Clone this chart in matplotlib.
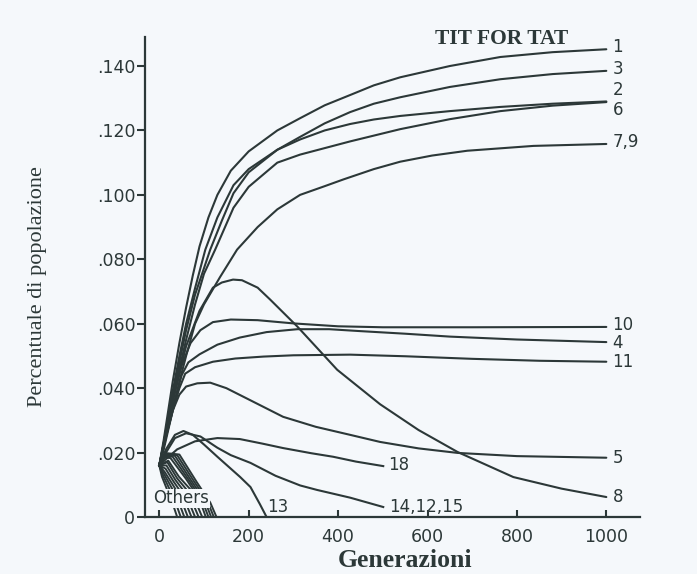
import matplotlib.pyplot as plt

# Axelrod ecological tournament: share of population per strategy vs generation
gen_tft = [0, 10, 20, 30, 45, 60, 75, 90, 110, 130, 160, 200, 264, 315, 370, 427, 480, 539, 650, 763, 880, 1000]
pop_tft = [0.016, 0.024, 0.033, 0.042, 0.054, 0.065, 0.075, 0.084, 0.093, 0.100, 0.1075, 0.1135, 0.1200,
           0.1238, 0.1278, 0.1310, 0.1340, 0.1365, 0.1400, 0.1428, 0.1443, 0.1452]

gen_3 = [0, 10, 20, 30, 45, 60, 80, 103, 130, 166, 200, 264, 315, 370, 427, 480, 539, 650, 763, 880, 1000]
pop_3 = [0.016, 0.023, 0.031, 0.039, 0.050, 0.060, 0.071, 0.083, 0.093, 0.103, 0.108, 0.114, 0.118,
         0.1222, 0.1257, 0.1283, 0.1303, 0.1335, 0.1359, 0.1375, 0.1385]

gen_2 = [0, 10, 20, 30, 45, 60, 80, 114, 140, 166, 200, 264, 315, 370, 427, 480, 539, 650, 763, 880, 1000]
pop_2 = [0.016, 0.023, 0.030, 0.038, 0.048, 0.058, 0.069, 0.083, 0.092, 0.1005, 0.107, 0.114, 0.1172,
         0.1200, 0.1220, 0.1234, 0.1245, 0.1260, 0.1273, 0.1283, 0.1290]

gen_6 = [0, 10, 20, 30, 45, 60, 80, 100, 125, 166, 200, 264, 315, 427, 539, 650, 763, 880, 1000]
pop_6 = [0.016, 0.022, 0.029, 0.036, 0.046, 0.055, 0.066, 0.0755, 0.083, 0.096, 0.1025, 0.110, 0.1125,
         0.1166, 0.1204, 0.1235, 0.1260, 0.1277, 0.1288]

gen_79 = [0, 10, 20, 30, 45, 60, 80, 100, 136, 174, 220, 264, 315, 370, 412, 480, 539, 610, 689, 837, 1000]
pop_79 = [0.016, 0.021, 0.027, 0.033, 0.042, 0.050, 0.060, 0.066, 0.0745, 0.083, 0.090, 0.0955, 0.1000,
          0.1027, 0.1048, 0.1080, 0.1103, 0.1122, 0.1137, 0.1152, 0.1158]

gen_10 = [0, 15, 30, 50, 70, 92, 120, 160, 220, 300, 400, 500, 700, 1000]
pop_10 = [0.016, 0.026, 0.036, 0.047, 0.054, 0.058, 0.0605, 0.0613, 0.0611, 0.0601, 0.0592, 0.0589,
          0.0589, 0.0590]

gen_4 = [0, 15, 30, 50, 65, 90, 130, 180, 240, 309, 380, 450, 550, 650, 800, 1000]
pop_4 = [0.016, 0.025, 0.034, 0.044, 0.048, 0.0505, 0.0535, 0.0557, 0.0574, 0.0583, 0.0583, 0.0577,
         0.0569, 0.0560, 0.0551, 0.0543]

gen_11 = [0, 15, 30, 45, 58, 80, 120, 170, 233, 300, 427, 550, 700, 850, 1000]
pop_11 = [0.016, 0.025, 0.033, 0.040, 0.0445, 0.0465, 0.0482, 0.0492, 0.0498, 0.0502, 0.0504, 0.0499,
          0.0491, 0.0485, 0.0482]

gen_5 = [0, 15, 30, 45, 60, 85, 114, 150, 200, 277, 350, 427, 494, 580, 667, 800, 1000]
pop_5 = [0.016, 0.025, 0.033, 0.038, 0.0405, 0.0415, 0.0417, 0.040, 0.0365, 0.0311, 0.028, 0.0255,
         0.0233, 0.0213, 0.0199, 0.0189, 0.0184]

gen_8 = [0, 15, 30, 60, 90, 120, 140, 165, 185, 220, 248, 309, 398, 494, 580, 667, 792, 900, 1000]
pop_8 = [0.016, 0.026, 0.036, 0.053, 0.064, 0.0712, 0.0728, 0.0737, 0.0735, 0.0712, 0.0675, 0.0591,
         0.0457, 0.035, 0.027, 0.0202, 0.0124, 0.0088, 0.0062]

gen_18 = [0, 15, 40, 80, 130, 180, 230, 277, 340, 389, 440, 501]
pop_18 = [0.016, 0.018, 0.021, 0.0235, 0.0245, 0.0242, 0.0228, 0.0214, 0.0198, 0.0187, 0.0172, 0.0158]

gen_13 = [0, 15, 35, 54, 75, 100, 130, 181, 204, 225, 240]
pop_13 = [0.016, 0.021, 0.0255, 0.0267, 0.0255, 0.0225, 0.0187, 0.0124, 0.0093, 0.004, 0.0]

gen_141215 = [0, 15, 35, 60, 92, 130, 160, 204, 260, 315, 353, 427, 501]
pop_141215 = [0.016, 0.020, 0.0245, 0.026, 0.025, 0.0215, 0.0192, 0.0168, 0.0128, 0.0098, 0.0084,
              0.006, 0.0031]

# the many losing rules that die out early ("Others")
gen_others = [
    [0, 6, 16, 28, 40],
    [0, 8, 20, 34, 48],
    [0, 10, 24, 40, 56],
    [0, 12, 28, 46, 64],
    [0, 14, 32, 52, 72],
    [0, 16, 36, 58, 80],
    [0, 18, 40, 64, 88],
    [0, 20, 44, 70, 96],
    [0, 10, 25, 60, 90, 104],
    [0, 12, 30, 66, 96, 110],
    [0, 14, 35, 72, 102, 116],
    [0, 16, 40, 78, 108, 122],
    [0, 18, 45, 84, 114, 128],
]
pop_others = [
    [0.016, 0.0125, 0.009, 0.005, 0.0],
    [0.016, 0.013, 0.0095, 0.0055, 0.0],
    [0.016, 0.0135, 0.010, 0.006, 0.0],
    [0.016, 0.014, 0.0105, 0.0065, 0.0],
    [0.016, 0.015, 0.011, 0.007, 0.0],
    [0.016, 0.016, 0.0115, 0.0075, 0.0],
    [0.016, 0.017, 0.012, 0.008, 0.0],
    [0.016, 0.0175, 0.0125, 0.0085, 0.0],
    [0.016, 0.0185, 0.0183, 0.0118, 0.0055, 0.0],
    [0.016, 0.019, 0.0187, 0.0115, 0.0052, 0.0],
    [0.016, 0.0192, 0.019, 0.0112, 0.005, 0.0],
    [0.016, 0.0195, 0.0192, 0.011, 0.0048, 0.0],
    [0.016, 0.0198, 0.0194, 0.0108, 0.0045, 0.0],
]

end_curves = [(gen_tft, pop_tft), (gen_3, pop_3), (gen_2, pop_2), (gen_6, pop_6), (gen_79, pop_79),
              (gen_10, pop_10), (gen_4, pop_4), (gen_11, pop_11), (gen_5, pop_5), (gen_8, pop_8)]
end_labels = ["1", "3", "2", "6", "7,9", "10", "4", "11", "5", "8"]
end_label_y = [0.1459, 0.1390, 0.1325, 0.1263, 0.1163, 0.0595, 0.0540, 0.0482, 0.0184, 0.0062]

y_ticks = [0, 0.02, 0.04, 0.06, 0.08, 0.10, 0.12, 0.14]
y_ticklabels = ["0", ".020", ".040", ".060", ".080", ".100", ".120", ".140"]
x_ticks = [0, 200, 400, 600, 800, 1000]

ink = '#2c3838'
paper = '#f5f8fb'

fig = plt.figure(figsize=(6.97, 5.74), dpi=100, facecolor=paper)
ax = fig.add_axes([0.208, 0.0993, 0.710, 0.8362])
ax.set_facecolor(paper)

for gx, gy in end_curves:
    ax.plot(gx, gy, color=ink, lw=1.5, solid_capstyle='round')
for gx, gy in [(gen_18, pop_18), (gen_13, pop_13), (gen_141215, pop_141215)]:
    ax.plot(gx, gy, color=ink, lw=1.5)
for gx, gy in zip(gen_others, pop_others):
    ax.plot(gx, gy, color=ink, lw=1.4)

lab_font = dict(family='DejaVu Sans', fontsize=12, color=ink)
for lab, ly in zip(end_labels, end_label_y):
    ax.text(1014, ly, lab, ha='left', va='center', **lab_font)
ax.text(512, 0.0160, "18", ha='left', va='center', **lab_font)
ax.text(514, 0.0031, "14,12,15", ha='left', va='center', **lab_font)
ax.text(266, 0.0031, "13", ha='center', va='center', **lab_font)
ax.text(49, 0.0058, "Others", ha='center', va='center', zorder=5,
        bbox=dict(facecolor=paper, edgecolor='none', pad=0.5), **lab_font)

ax.set_xlim(-32, 1075)
ax.set_ylim(0, 0.149)
for side in ['top', 'right']:
    ax.spines[side].set_visible(False)
for side in ['left', 'bottom']:
    ax.spines[side].set_linewidth(1.6)
    ax.spines[side].set_color(ink)

ax.set_yticks(y_ticks)
ax.set_yticklabels(y_ticklabels)
ax.set_xticks(x_ticks)
ax.tick_params(axis='y', direction='out', length=5.5, width=1.5, pad=1.5, colors=ink, labelsize=12.5)
ax.tick_params(axis='x', direction='in', length=5, width=1.5, pad=8, colors=ink, labelsize=12.5)

fig.text(0.719, 0.932, "TIT FOR TAT", ha='center', va='center', family='Liberation Serif',
         fontweight='bold', fontsize=15.5, color=ink)
fig.text(0.581, 0.024, "Generazioni", ha='center', va='center', family='Liberation Serif',
         fontweight='bold', fontsize=18.5, color=ink)
fig.text(0.054, 0.50, "Percentuale di popolazione", ha='center', va='center', rotation=90,
         family='Liberation Serif', fontsize=16, color=ink)

plt.savefig('out.png', dpi=100, facecolor=paper)
